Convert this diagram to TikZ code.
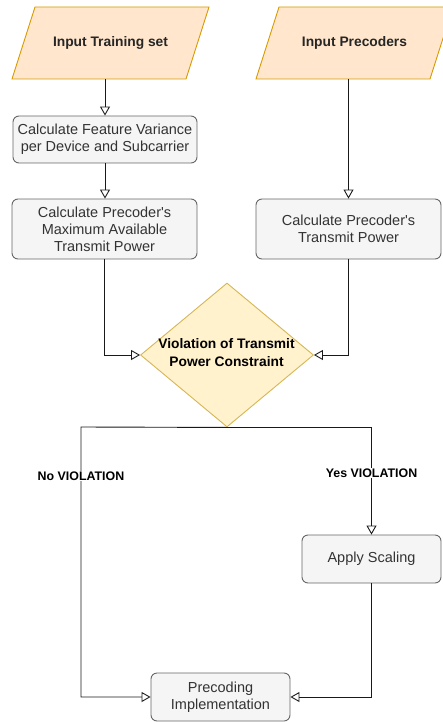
\documentclass[tikz,border=0pt]{standalone}
\usepackage{fontspec}
\setmainfont{Liberation Sans}[Ligatures=TeXOff]
\usetikzlibrary{arrows.meta,shapes.geometric}
\definecolor{ioFill}{HTML}{FFE6CC}
\definecolor{ioLine}{HTML}{D79B00}
\definecolor{decFill}{HTML}{FFF2CC}
\definecolor{decLine}{HTML}{D6B656}
\definecolor{procFill}{HTML}{F5F5F5}
\definecolor{procLine}{HTML}{666666}
\definecolor{procText}{HTML}{333333}
\tikzset{
  iotext/.style={minimum width=174pt, minimum height=72pt, inner sep=0pt,
    font=\fontsize{13.8}{16}\selectfont\bfseries, text=black!85},
  iobox/.style={draw=ioLine, fill=ioFill, line width=0.9pt},
  proc/.style={draw=procLine, fill=procFill, line width=0.9pt, rounded corners=6pt,
    inner sep=0pt, align=center, text=procText, font=\fontsize{14.5}{17}\selectfont},
  decision/.style={shape=diamond, draw=decLine, fill=decFill, line width=0.9pt,
    minimum width=173pt, minimum height=144pt, inner sep=0pt},
  dectext/.style={align=center, font=\fontsize{13.8}{18}\selectfont\bfseries, text=black},
  flow/.style={draw=black!90, line width=0.9pt, -{Triangle[open, length=9pt, width=10pt]}},
  edgelabel/.style={fill=white, inner sep=1pt, font=\fontsize{12.4}{14}\selectfont\bfseries, text=black}
}
\begin{document}
\begin{tikzpicture}[x=1pt, y=-1pt]
  \useasboundingbox (0,0) rectangle (442,722);

  % input parallelograms
  \draw[iobox] (35,7) -- (209,7) -- (186,79) -- (12,79) -- cycle;
  \draw[iobox] (279,7) -- (453,7) -- (430,79) -- (256,79) -- cycle;
  \node[iotext] (in1) at (110.5,43) {Input Training set};
  \node[iotext] (in2) at (354.5,43) {Input Precoders};

  % process steps
  \node[proc, minimum width=184pt, minimum height=47pt] (b1) at (105,139.5)
    {Calculate Feature Variance\\per Device and Subcarrier};
  \node[proc, minimum width=185pt, minimum height=60pt] (b2) at (104.5,229)
    {Calculate Precoder's\\Maximum Available\\Transmit Power};
  \node[proc, minimum width=185pt, minimum height=60pt] (b3) at (348.5,229)
    {Calculate Precoder's\\Transmit Power};

  % decision
  \node[decision] (dia) at (227,355) {};
  \node[dectext] (dtext) at (226.5,352.5) {Violation of Transmit\\Power Constraint};

  \node[proc, minimum width=139pt, minimum height=48pt] (scal) at (371.5,559) {Apply Scaling};
  \node[proc, minimum width=139pt, minimum height=48pt] (prec) at (220.5,697)
    {Precoding\\Implementation};

  \coordinate (noTurn) at (81,427);

  % connectors
  \draw[flow] (in1.south -| b1.north) -- (b1.north);
  \draw[flow] (b1.south) -- (b1.south |- b2.north);
  \draw[flow] (in2.south -| b3.north) -- (b3.north);
  \draw[flow] (b2.south) |- (dia.west);
  \draw[flow] (b3.south) |- (dia.east);
  \draw[flow] (dia.south) -- (noTurn) |- (prec.west);
  \draw[flow] (dia.south) -| (scal.north);
  \draw[flow] (scal.south) |- (prec.east);

  % branch labels
  \node[edgelabel] (lno) at (81,476) {No VIOLATION};
  \node[edgelabel] (lyes) at (371.5,473) {Yes VIOLATION};
\end{tikzpicture}
\end{document}
